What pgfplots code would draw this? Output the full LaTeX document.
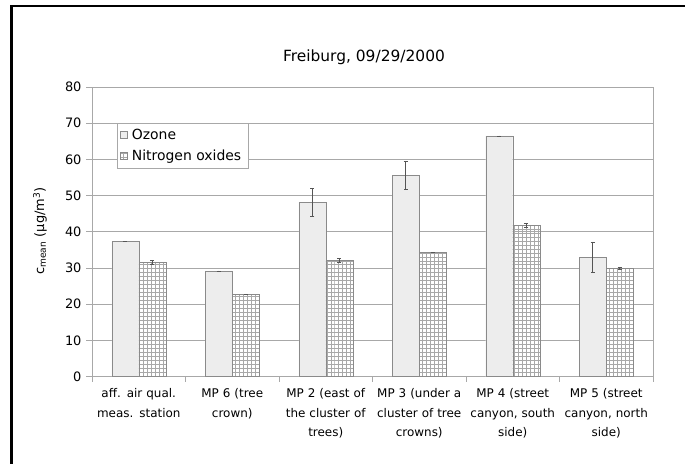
\documentclass[border=0pt]{standalone}
\usepackage{fontspec}
\setmainfont{DejaVu Sans}
\usepackage{pgfplots}
\pgfplotsset{compat=1.18}
\usetikzlibrary{patterns}

% fine square grid for the nitrogen oxides bars
\pgfdeclarepatternformonly{finegrid}{\pgfqpoint{-0.5pt}{-0.5pt}}{\pgfqpoint{4.5pt}{4.5pt}}{\pgfqpoint{4pt}{4pt}}{%
  \pgfsetlinewidth{0.5pt}
  \pgfpathmoveto{\pgfqpoint{0pt}{0pt}}\pgfpathlineto{\pgfqpoint{0pt}{4pt}}
  \pgfpathmoveto{\pgfqpoint{0pt}{0pt}}\pgfpathlineto{\pgfqpoint{4pt}{0pt}}
  \pgfusepath{stroke}}

\definecolor{barline}{HTML}{8A8A8A}
\definecolor{gridc}{HTML}{A8A8A8}
\definecolor{ozfill}{HTML}{EDEDED}
\definecolor{errc}{HTML}{555555}

\begin{document}
\begin{tikzpicture}
\useasboundingbox (0,0) rectangle (685bp,464bp);
\draw[line width=2.6bp] (11.3bp,0) -- (11.3bp,457.8bp) -- (686bp,457.8bp);

\begin{axis}[
  at={(92bp,87.3bp)}, anchor=south west, scale only axis,
  width=561bp, height=289.7bp,
  ymin=0, ymax=80, ytick={0,10,...,80},
  xmin=-0.5, xmax=5.5,
  xtick={0,...,5},
  xticklabels={{aff. air qual.\\meas. station},
               {MP 6 (tree\\crown)},
               {MP 2 (east of\\the cluster of\\trees)},
               {MP 3 (under a\\cluster of tree\\crowns)},
               {MP 4 (street\\canyon, south\\side)},
               {MP 5 (street\\canyon, north\\side)}},
  major x tick style={draw=none},
  minor xtick={-0.5,0.5,1.5,2.5,3.5,4.5,5.5},
  ybar=0pt, bar width=27bp,
  ymajorgrids, grid style={gridc, line width=0.8bp},
  axis line style={gridc, line width=0.8bp},
  tick align=outside,
  major tick length=6bp, minor tick length=5bp,
  every tick/.style={gridc, line width=0.8bp},
  ytick pos=left, xtick pos=bottom,
  /pgf/number format/assume math mode=true,
  y tick label style={font=\fontsize{13}{15}\selectfont, xshift=-1bp},
  x tick label style={font=\fontsize{12}{19.8}\selectfont, align=center, text width=100bp, yshift=-2bp},
  legend style={at={(rel axis cs:0.045,0.876)}, anchor=north west, draw=gridc,
                font=\fontsize{14}{16}\selectfont, row sep=5bp,
                inner xsep=3bp, inner ysep=4bp,
                nodes={inner xsep=4bp}},
  legend cell align=left,
  legend image code/.code={\draw[#1] (0bp,-3.5bp) rectangle (7bp,3.5bp);},
]
\addplot[draw=barline, fill=ozfill,
  error bars/.cd, y dir=both, y explicit,
  error bar style={errc, line width=0.8bp},
  error mark options={rotate=90, mark size=2bp, errc}]
  coordinates {
  (0,37.3) +- (0,0)
  (1,29.2) +- (0,0)
  (2,48.2) +- (0,3.9)
  (3,55.6) +- (0,3.8)
  (4,66.5) +- (0,0)
  (5,33.0) +- (0,4.2)
  };
\addlegendentry{Ozone}
\addplot[draw=barline, pattern=finegrid, pattern color=gridc,
  error bars/.cd, y dir=both, y explicit,
  error bar style={errc, line width=0.8bp},
  error mark options={rotate=90, mark size=2bp, errc}]
  coordinates {
  (0,31.6) +- (0,0.5)
  (1,22.8) +- (0,0)
  (2,32.2) +- (0,0.5)
  (3,34.4) +- (0,0)
  (4,41.8) +- (0,0.5)
  (5,29.9) +- (0,0.3)
  };
\addlegendentry{Nitrogen oxides}
\end{axis}

\node[font=\fontsize{15.5}{18}\selectfont] at (364bp,407bp) {Freiburg, 09/29/2000};
\node[rotate=90, font=\fontsize{13}{15}\selectfont] at (40bp,233bp)
  {c\textsubscript{mean} (µg/m\textsuperscript{3})};
\end{tikzpicture}
\end{document}
